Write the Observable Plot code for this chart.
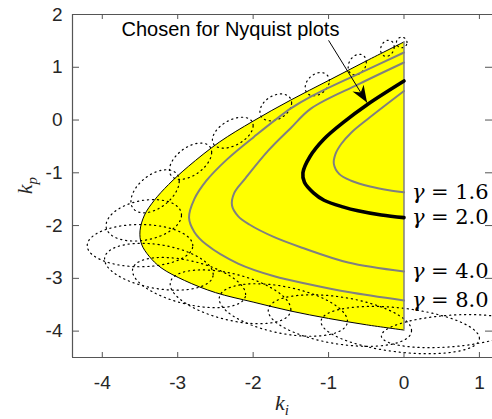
<!DOCTYPE html>
<html>
<head>
<meta charset="utf-8">
<script src="https://cdn.jsdelivr.net/npm/d3@7"></script>
<script src="https://cdn.jsdelivr.net/npm/@observablehq/plot@0.6"></script>
<style>
  html, body { margin: 0; padding: 0; background: #fff; }
  svg { display: block; }
</style>
</head>
<body>
<div id="chart"></div>
<script>
// Stability region in the (ki, kp) plane: outer boundary, [ki, kp]
const stabilityBoundary = [
  [0, 1.48], [-0.5, 1.12], [-1.0, 0.75], [-1.5, 0.38], [-2.0, -0.02],
  [-2.45, -0.42], [-2.86, -0.88], [-3.12, -1.22], [-3.31, -1.52], [-3.44, -1.8],
  [-3.5, -2.1], [-3.48, -2.35], [-3.38, -2.58], [-3.22, -2.8], [-2.91, -3.04],
  [-2.5, -3.27], [-2.0, -3.45], [-1.5, -3.62], [-1.0, -3.76], [-0.5, -3.88], [0, -3.98]
];

// Level curves of the robustness measure γ
const gamma8 = [
  [0, 1.28], [-0.6, 0.88], [-1.23, 0.45], [-1.5, 0.22], [-1.99, -0.32], [-2.35, -0.75],
  [-2.62, -1.15], [-2.78, -1.5], [-2.85, -1.85], [-2.78, -2.12], [-2.62, -2.36],
  [-2.2, -2.72], [-1.72, -2.96], [-1.23, -3.12], [-0.74, -3.26], [0, -3.42]
];
const gamma4 = [
  [0, 1.09], [-0.6, 0.68], [-1.23, 0.22], [-1.5, -0.15], [-1.8, -0.58], [-2.1, -1.1],
  [-2.25, -1.38], [-2.28, -1.62], [-2.2, -1.82], [-2.05, -1.98], [-1.72, -2.22],
  [-1.35, -2.42], [-0.74, -2.7], [0, -2.87]
];
const gamma2 = [
  [0, 0.74], [-0.48, 0.3], [-0.8, -0.04], [-1.06, -0.36], [-1.25, -0.7], [-1.34, -1.0],
  [-1.32, -1.18], [-1.2, -1.38], [-1.06, -1.52], [-0.8, -1.65], [-0.61, -1.72],
  [-0.3, -1.8], [0, -1.85]
];
const gamma16 = [
  [0, 0.55], [-0.48, 0.02], [-0.7, -0.24], [-0.83, -0.45], [-0.91, -0.65], [-0.93, -0.83],
  [-0.86, -1.02], [-0.7, -1.15], [-0.45, -1.26], [-0.2, -1.33], [0, -1.37]
];

const gammaValues = [1.6, 2.0, 4.0, 8.0];
const gammaCurves = [gamma16, gamma2, gamma4, gamma8];

// Dotted uncertainty ellipses along the boundary (centre, half-widths, tilt dkp/dki)
const ellipseKi     = [-0.03, -0.22, -0.62, -1.15, -1.70, -2.27, -2.83, -3.30, -3.45, -3.50, -3.25, -2.85, -2.30, -1.60, -0.85, -0.05, 0.60];
const ellipseKp     = [1.47, 1.36, 1.05, 0.68, 0.24, -0.24, -0.78, -1.35, -1.90, -2.38, -2.78, -3.08, -3.35, -3.60, -3.80, -3.98, -4.00];
const ellipseHalfKi = [0.07, 0.09, 0.12, 0.16, 0.21, 0.27, 0.28, 0.32, 0.50, 0.70, 0.72, 0.75, 0.80, 0.85, 0.95, 1.05, 0.90];
const ellipseHalfKp = [0.10, 0.15, 0.19, 0.21, 0.24, 0.26, 0.30, 0.36, 0.38, 0.40, 0.42, 0.42, 0.45, 0.45, 0.45, 0.42, 0.30];
const ellipseTilt   = [0, 0.3, 0.4, 0.4, 0.4, 0.5, 0.6, 0.6, 0.2, 0, -0.2, -0.3, -0.3, -0.25, -0.2, -0.15, 0.1];

// Annotation arrow: text anchor, arrow start and tip
const noteText = "Chosen for Nyquist plots";
const notePos = [-3.745, 1.6];
const arrowFrom = [-1.0, 1.51];
const arrowTo = [-0.49, 0.33];

const xTicks = [-4, -3, -2, -1, 0, 1];
const yTicks = [-4, -3, -2, -1, 0, 1, 2];

// Layout
const W = 492, H = 419;
const xDomain = [-4.395, 1.2], xRange = [72, 494];
const yDomain = [-4.5, 2], yRange = [357, 14];
const innerH = yRange[0] - yRange[1];
const innerW = W - xRange[0];
const tickLen = 5;
const axisColor = "#555";

// Ellipse outlines as point lists
const ellipsePoints = ellipseKi.flatMap((cx, i) =>
  d3.range(0, 121).map(j => {
    const t = (j / 120) * 2 * Math.PI;
    return {
      id: i,
      ki: cx + ellipseHalfKi[i] * Math.cos(t),
      kp: ellipseKp[i] + ellipseTilt[i] * ellipseHalfKi[i] * Math.cos(t) + ellipseHalfKp[i] * Math.sin(t)
    };
  })
);

// Label rows placed at the right-hand end of each γ curve
const gammaLabels = gammaValues.map((g, i) => {
  const last = gammaCurves[i][gammaCurves[i].length - 1];
  return {g, ki: last[0], kp: last[1]};
});

// Arrow head drawn as a notched triangle with its tip at the origin, pointing up
const arrowHead = {
  draw(ctx) {
    const L = 17, Wd = 6.5, N = 5;
    ctx.moveTo(0, 0);
    ctx.lineTo(Wd, L);
    ctx.lineTo(0, L - N);
    ctx.lineTo(-Wd, L);
    ctx.closePath();
  }
};
const kx = (xRange[1] - xRange[0]) / (xDomain[1] - xDomain[0]);
const ky = (yRange[0] - yRange[1]) / (yDomain[1] - yDomain[0]);
const arrowAngle = Math.atan2(-(arrowTo[1] - arrowFrom[1]) * ky, (arrowTo[0] - arrowFrom[0]) * kx) * 180 / Math.PI + 90;

const P = d => d[0], Q = d => d[1];
const first = stabilityBoundary[0], lastB = stabilityBoundary[stabilityBoundary.length - 1];

const svg = Plot.plot({
  width: W,
  height: H,
  marginLeft: xRange[0],
  marginRight: 0,
  marginTop: yRange[1],
  marginBottom: H - yRange[0],
  style: {fontFamily: "'Liberation Sans', Arial, sans-serif", fontSize: "19px", color: "#262626", background: "#fff"},
  x: {domain: xDomain, range: xRange},
  y: {domain: yDomain, range: yRange},
  marks: [
    // filled stable region
    Plot.line(stabilityBoundary, {x: P, y: Q, curve: "catmull-rom", fill: "#ffff00", stroke: "none"}),
    // dotted ellipses
    Plot.line(ellipsePoints, {x: "ki", y: "kp", z: "id", stroke: "#000", strokeWidth: 1.2,
      strokeDasharray: "1.2 3.8", curve: "linear", clip: true}),
    // region boundary
    Plot.line(stabilityBoundary, {x: P, y: Q, curve: "catmull-rom", stroke: "#000", strokeWidth: 1}),
    Plot.ruleX([0], {y1: first[1], y2: lastB[1], stroke: "#808080", strokeWidth: 1.5}),
    // γ level curves
    Plot.line(gamma8, {x: P, y: Q, curve: "catmull-rom", stroke: "#808080", strokeWidth: 2}),
    Plot.line(gamma4, {x: P, y: Q, curve: "catmull-rom", stroke: "#808080", strokeWidth: 2}),
    Plot.line(gamma16, {x: P, y: Q, curve: "catmull-rom", stroke: "#808080", strokeWidth: 2}),
    Plot.line(gamma2, {x: P, y: Q, curve: "catmull-rom", stroke: "#000", strokeWidth: 3.6}),
    // γ labels
    Plot.text(gammaLabels, {x: "ki", y: "kp", text: () => "γ", textAnchor: "start", dx: 8,
      fontFamily: "'DejaVu Serif', serif", fontStyle: "italic", fontSize: 21, fill: "#000", lineAnchor: "middle"}),
    Plot.text(gammaLabels, {x: "ki", y: "kp", text: d => "= " + d.g.toFixed(1), textAnchor: "start", dx: 27,
      fontFamily: "'DejaVu Serif', serif", fontSize: 21, fill: "#000", lineAnchor: "middle"}),
    // annotation
    Plot.text([notePos], {x: P, y: Q, text: () => noteText, textAnchor: "start", lineAnchor: "bottom",
      fontFamily: "'Liberation Sans', Arial, sans-serif", fontSize: 20, fill: "#000"}),
    Plot.link([[arrowFrom, arrowTo]], {x1: d => d[0][0], y1: d => d[0][1], x2: d => d[1][0], y2: d => d[1][1],
      stroke: "#000", strokeWidth: 1}),
    Plot.dot([arrowTo], {x: P, y: Q, symbol: arrowHead, rotate: arrowAngle, fill: "#000", stroke: "none"}),
    // box spines (left, bottom, top)
    Plot.ruleX([xDomain[0]], {stroke: axisColor, strokeWidth: 1.2}),
    Plot.ruleY([yDomain[0]], {stroke: axisColor, strokeWidth: 1.2}),
    Plot.ruleY([yDomain[1]], {stroke: axisColor, strokeWidth: 1}),
    // inward ticks
    Plot.tickX(xTicks, {x: d => d, insetTop: innerH - tickLen, stroke: axisColor}),
    Plot.tickX(xTicks, {x: d => d, insetBottom: innerH - tickLen, stroke: axisColor}),
    Plot.tickY(yTicks, {y: d => d, insetRight: innerW - 2 - tickLen, stroke: axisColor}),
    Plot.tickY(yTicks, {y: d => d, insetLeft: innerW - 2 - tickLen, stroke: axisColor}),
    Plot.axisX(xTicks, {tickSize: 0, tickPadding: 18, label: null, tickFormat: d => String(d).replace("−", "-"), fill: "#262626"}),
    Plot.axisY(yTicks, {tickSize: 0, tickPadding: 10, label: null, tickFormat: d => String(d), fill: "#262626"})
  ]
});

// Axis titles with subscripts
const root = d3.select(svg);
function axisTitle(x, y, sub, rotate) {
  const t = root.append("text")
    .attr("transform", `translate(${x},${y}) rotate(${rotate})`)
    .attr("text-anchor", "middle")
    .attr("font-family", "'Liberation Serif', 'Times New Roman', serif")
    .attr("font-style", "italic")
    .attr("font-size", 22)
    .attr("fill", "#262626");
  t.append("tspan").text("k");
  t.append("tspan").attr("font-size", 15).attr("dy", 5).text(sub);
}
axisTitle((xRange[0] + 492) / 2, 410, "i", 0);
axisTitle(32, (yRange[0] + yRange[1]) / 2, "p", -90);

document.getElementById("chart").append(svg);
</script>
</body>
</html>
